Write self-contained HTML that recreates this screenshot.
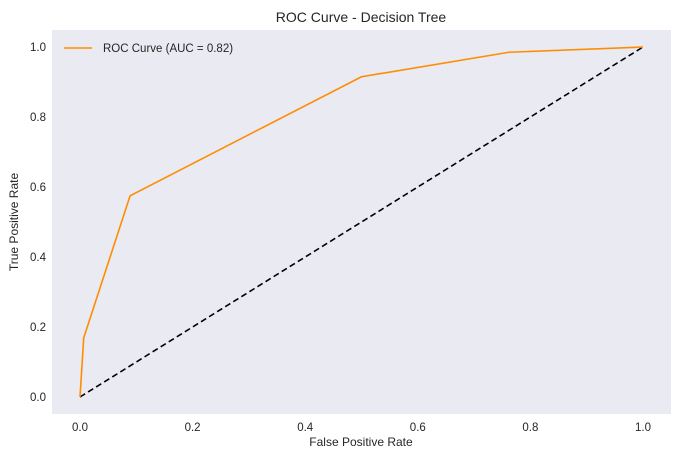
<!DOCTYPE html>
<html><head><meta charset="utf-8"><style>
body{margin:0;background:#fff;font-family:"Liberation Sans",sans-serif}
svg text{font-family:"Liberation Sans",sans-serif;fill:#262626}
</style></head><body>
<svg id="c" width="681" height="459">
<rect x="52" y="30" width="619" height="384" fill="#eaeaf2"/>
<text x="361" y="22" font-size="14" text-anchor="middle">ROC Curve - Decision Tree</text>
<text x="361" y="446" font-size="12" text-anchor="middle">False Positive Rate</text>
<text x="18" y="222" font-size="12" text-anchor="middle" transform="rotate(-90 18 222)">True Positive Rate</text>
<g id="ticks"></g>
<line id="diag" stroke="#000" stroke-width="1.6" stroke-dasharray="6,3.5"/>
<polyline id="roc" fill="none" stroke="#ff8c00" stroke-width="1.6"/>
<g>
<line x1="64" y1="48" x2="92" y2="48" stroke="#ff8c00" stroke-width="1.6"/>
<text x="103" y="52" font-size="11.5">ROC Curve (AUC = 0.82)</text>
</g>
</svg>
<script>
const fpr=[0,0.0066,0.089,0.5,0.762,1];
const tpr=[0,0.169,0.575,0.915,0.985,1];
const xTicks=["0.0","0.2","0.4","0.6","0.8","1.0"];
const yTicks=["0.0","0.2","0.4","0.6","0.8","1.0"];
const X=v=>80+v*563, Y=v=>397-v*350;
const ns="http://www.w3.org/2000/svg";
const g=document.getElementById('ticks');
xTicks.forEach(t=>{const e=document.createElementNS(ns,'text');


e.setAttribute('x',X(+t));e.setAttribute('y',431);e.setAttribute('font-size','11.5');e.setAttribute('text-anchor','middle');e.textContent=t;g.appendChild(e);});
yTicks.forEach(t=>{const e=document.createElementNS(ns,'text');


e.setAttribute('x',46);e.setAttribute('y',Y(+t)+4);e.setAttribute('font-size','11.5');e.setAttribute('text-anchor','end');e.textContent=t;g.appendChild(e);});
const d=document.getElementById('diag');
d.setAttribute('x1',X(0));d.setAttribute('y1',Y(0));d.setAttribute('x2',X(1));d.setAttribute('y2',Y(1));
document.getElementById('roc').setAttribute('points',fpr.map((f,i)=>X(f)+','+Y(tpr[i])).join(' '));
</script>
</body></html>
